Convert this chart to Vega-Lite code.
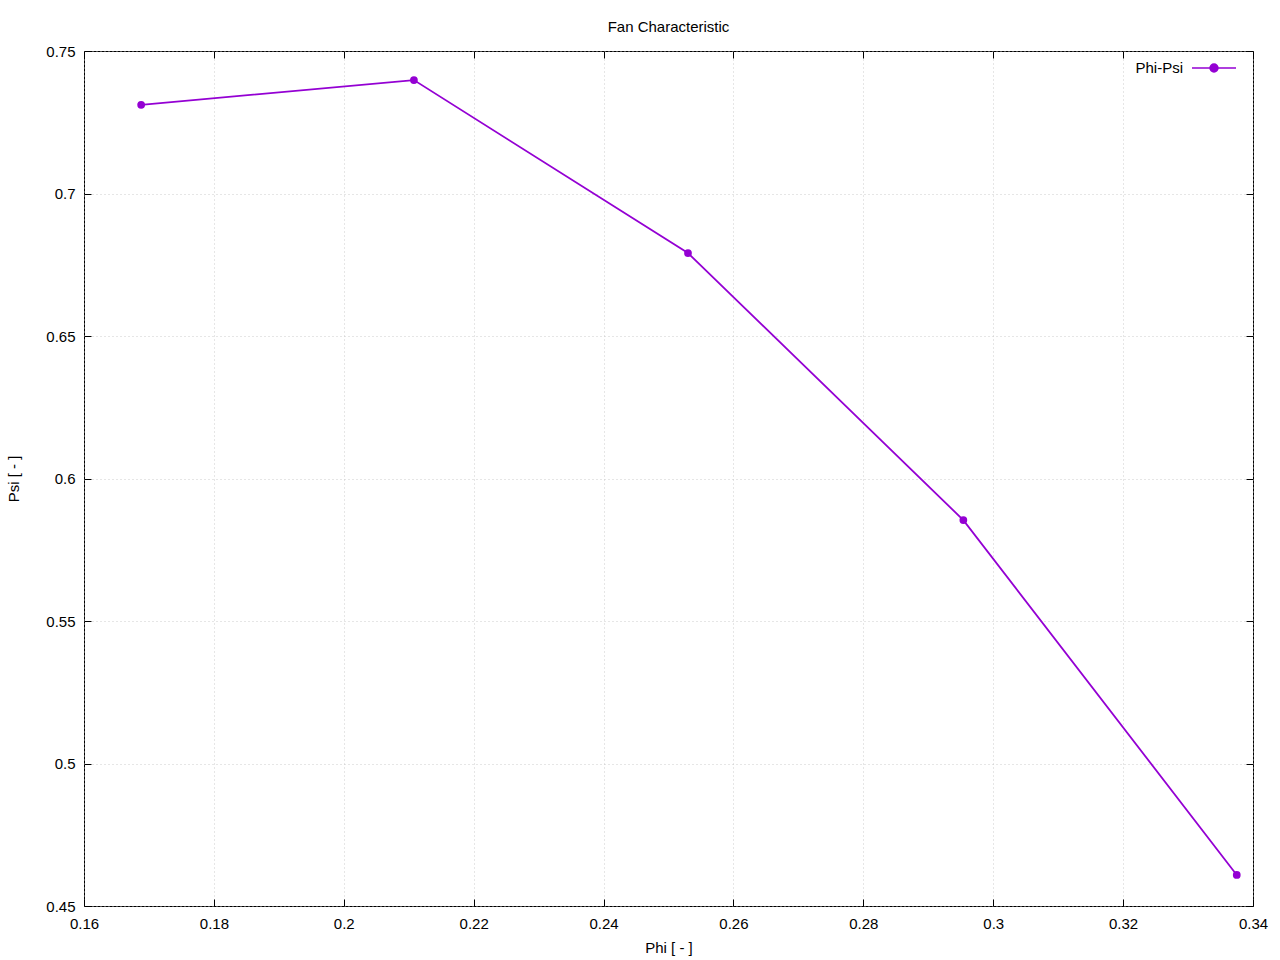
{
  "$schema": "https://vega.github.io/schema/vega-lite/v6.json",
  "width": 1169,
  "height": 855,
  "autosize": {"type": "none"},
  "padding": {"left": 84, "top": 51, "right": 27, "bottom": 54},
  "background": "#ffffff",
  "title": {"text": "Fan Characteristic", "fontSize": 15, "fontWeight": "normal", "font": "Liberation Sans", "color": "#000000", "offset": 9, "anchor": "middle"},
  "config": {
    "view": {"stroke": "#000000", "strokeWidth": 1},
    "font": "Liberation Sans",
    "axis": {
      "domain": false,
      "tickColor": "#000000",
      "tickWidth": 1,
      "labelColor": "#000000",
      "labelFontSize": 15,
      "labelFont": "Liberation Sans",
      "labelFlush": false,
      "labelOverlap": false,
      "titleFontSize": 15,
      "titleFont": "Liberation Sans",
      "titleFontWeight": "normal",
      "titleColor": "#000000",
      "gridColor": "#c0c0c0",
      "gridDash": [1, 3],
      "gridWidth": 0.8
    }
  },
  "data": {
    "values": [
      {"phi": 0.1688, "psi": 0.7311, "series": "Phi-Psi"},
      {"phi": 0.2108, "psi": 0.7398, "series": "Phi-Psi"},
      {"phi": 0.2530, "psi": 0.6791, "series": "Phi-Psi"},
      {"phi": 0.2954, "psi": 0.5854, "series": "Phi-Psi"},
      {"phi": 0.3375, "psi": 0.4609, "series": "Phi-Psi"}
    ]
  },
  "layer": [
    {
      "mark": {"type": "line", "strokeWidth": 1.8, "point": {"filled": true, "size": 60}},
      "encoding": {
        "x": {
          "field": "phi", "type": "quantitative",
          "scale": {"domain": [0.16, 0.34], "nice": false, "zero": false},
          "axis": {"orient": "bottom", "values": [0.16, 0.18, 0.2, 0.22, 0.24, 0.26, 0.28, 0.3, 0.32, 0.34], "format": "~g", "title": "Phi [ - ]", "grid": true, "tickSize": -7, "labelPadding": 17, "titlePadding": 9}
        },
        "y": {
          "field": "psi", "type": "quantitative",
          "scale": {"domain": [0.45, 0.75], "nice": false, "zero": false},
          "axis": {"orient": "left", "values": [0.45, 0.5, 0.55, 0.6, 0.65, 0.7, 0.75], "format": "~g", "title": "Psi [ - ]", "grid": true, "tickSize": -7, "labelPadding": 16, "titlePadding": 24}
        },
        "color": {
          "field": "series", "type": "nominal",
          "scale": {"domain": ["Phi-Psi"], "range": ["#9400d3"]},
          "legend": {
            "title": null,
            "orient": "none",
            "legendX": 1107,
            "legendY": -6,
            "symbolType": "M-1,0H1M-0.18,0A0.18,0.18 0 1,0 0.18,0A0.18,0.18 0 1,0 -0.18,0",
            "symbolSize": 1936,
            "symbolStrokeWidth": 1.5,
            "symbolFillColor": "#9400d3",
            "symbolStrokeColor": "#9400d3",
            "labelFontSize": 15,
            "labelFont": "Liberation Sans",
            "labelColor": "#000000",
            "labelAlign": "right",
            "labelOffset": -54
          }
        }
      }
    },
    {
      "mark": {"type": "line", "opacity": 0},
      "encoding": {
        "x": {
          "field": "phi", "type": "quantitative",
          "axis": {"orient": "top", "values": [0.16, 0.18, 0.2, 0.22, 0.24, 0.26, 0.28, 0.3, 0.32, 0.34], "labels": false, "title": null, "grid": false, "tickSize": -7}
        },
        "y": {
          "field": "psi", "type": "quantitative",
          "axis": {"orient": "right", "values": [0.45, 0.5, 0.55, 0.6, 0.65, 0.7, 0.75], "labels": false, "title": null, "grid": false, "tickSize": -7}
        }
      }
    }
  ],
  "resolve": {"axis": {"x": "independent", "y": "independent"}}
}
